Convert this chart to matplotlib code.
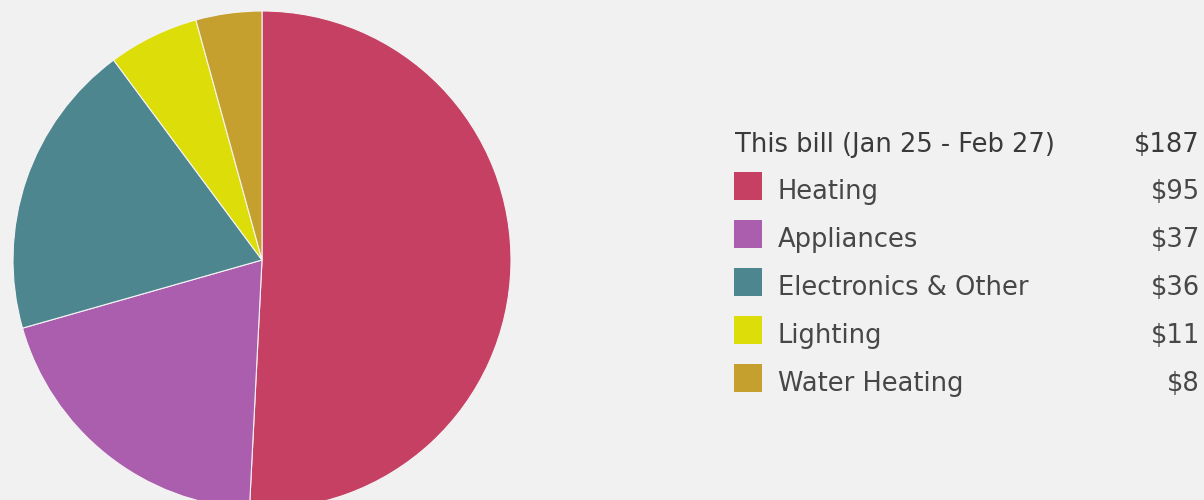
import matplotlib.pyplot as plt
from matplotlib.patches import Rectangle

# bill breakdown
categories = ['Heating', 'Appliances', 'Electronics & Other', 'Lighting', 'Water Heating']
costs = [95, 37, 36, 11, 8]
colors = ['#C54062', '#AB5EAE', '#4E8690', '#DDDD0A', '#C5A02E']
title_label = 'This bill (Jan 25 - Feb 27)'
total = sum(costs)

bg = '#F1F1F1'
W, H = 1204, 500

fig = plt.figure(figsize=(W / 100, H / 100), dpi=100, facecolor=bg)

# pie: centre at (262, 260) px from top-left, radius ~249 px
cx, cy, r = 262, 260, 249
ax = fig.add_axes([(cx - r) / W, (H - cy - r) / H, 2 * r / W, 2 * r / H])
ax.set_facecolor(bg)
ax.pie(costs, colors=colors, startangle=90, counterclock=False, radius=1,
       wedgeprops=dict(edgecolor='#F4F4F4', linewidth=0.8))
ax.set_xlim(-1, 1)
ax.set_ylim(-1, 1)
ax.set_aspect('auto')
ax.axis('off')

# legend drawn in pixel coordinates
lax = fig.add_axes([0, 0, 1, 1], facecolor='none')
lax.set_xlim(0, W)
lax.set_ylim(H, 0)
lax.axis('off')

font = 'DejaVu Sans'
fs = 18.5
lax.text(735, 152, title_label, fontsize=fs, family=font, color='#3a3a3a', va='baseline', ha='left')
lax.text(1200, 152, f'${total}', fontsize=fs, family=font, color='#3a3a3a', va='baseline', ha='right')

for i, (name, val, col) in enumerate(zip(categories, costs, colors)):
    base = 199 + 48 * i
    lax.add_patch(Rectangle((734, 172 + 48 * i), 28, 28, facecolor=col, edgecolor='none'))
    lax.text(778, base, name, fontsize=fs, family=font, color='#474747', va='baseline', ha='left')
    lax.text(1200, base, f'${val}', fontsize=fs, family=font, color='#474747', va='baseline', ha='right')

fig.savefig('out.png', dpi=100, facecolor=bg)
